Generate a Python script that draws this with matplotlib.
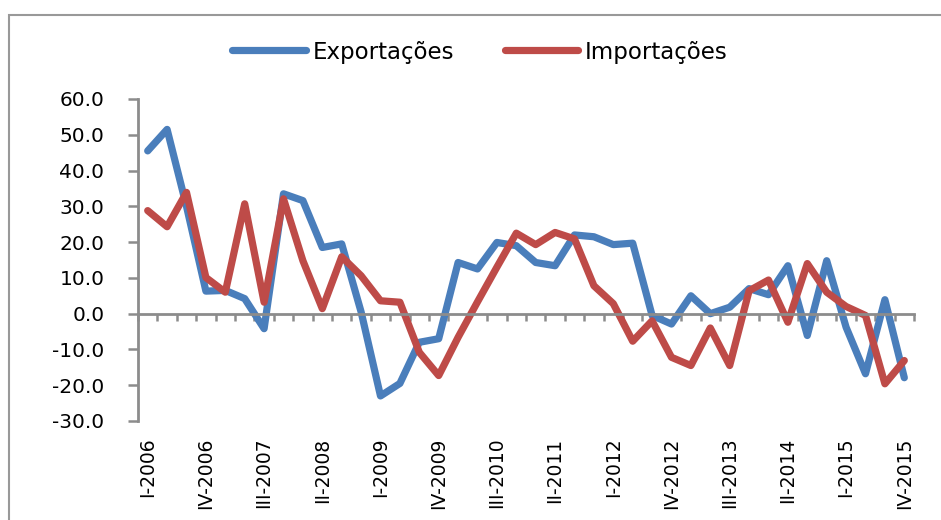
import matplotlib.pyplot as plt
from matplotlib.patches import Rectangle

# Trimestres I-2006 .. IV-2015
quarters = [f"{q}-{y}" for y in range(2006, 2016) for q in ["I", "II", "III", "IV"]]

exportacoes = [45.5, 51.5, 30.0, 6.3, 6.5, 4.2, -4.2, 33.5, 31.6, 18.5,
               19.5, 0.5, -23.0, -19.5, -8.0, -7.0, 14.3, 12.5, 19.9, 19.0,
               14.3, 13.4, 22.0, 21.5, 19.3, 19.7, -0.5, -2.9, 5.0, 0.0,
               1.8, 7.0, 5.3, 13.4, -6.1, 14.8, -3.8, -16.8, 3.9, -17.9]

importacoes = [28.8, 24.3, 33.9, 10.1, 6.0, 30.7, 3.2, 32.1, 14.8, 1.4,
               15.9, 10.6, 3.6, 3.2, -10.8, -17.3, -6.6, 3.3, 13.0, 22.5,
               19.3, 22.7, 20.9, 7.8, 2.8, -7.7, -2.0, -12.2, -14.5, -4.0,
               -14.5, 6.4, 9.4, -2.4, 14.0, 6.0, 2.0, -0.5, -19.6, -13.1]

yticks = [-30, -20, -10, 0, 10, 20, 30, 40, 50, 60]
label_idx = list(range(0, 40, 3))

blue = "#4A7EBB"
red = "#BE4B48"
gray = "#8C8C8C"

fig = plt.figure(figsize=(9.41, 5.2), dpi=100)
ax = fig.add_axes([138 / 941, 99 / 520, 776 / 941, 322 / 520])

x = list(range(len(quarters)))
ax.plot(x, exportacoes, color=blue, lw=5.2, solid_capstyle="round",
        solid_joinstyle="round", label="Exportações")
ax.plot(x, importacoes, color=red, lw=5.2, solid_capstyle="round",
        solid_joinstyle="round", label="Importações")

ax.set_xlim(-0.5, 39.5)
ax.set_ylim(-30, 60)

# eixo y
ax.set_yticks(yticks)
ax.set_yticklabels([f"{v:.1f}" for v in yticks], fontsize=14.5,
                   family="DejaVu Sans")
ax.tick_params(axis="y", direction="out", length=7.2, width=1.8, color=gray, pad=17)
ax.spines["left"].set_color(gray)
ax.spines["left"].set_linewidth(2)
ax.spines["top"].set_visible(False)
ax.spines["right"].set_visible(False)

# linha do zero com marcas entre categorias
ax.spines["bottom"].set_position(("data", 0))
ax.spines["bottom"].set_color(gray)
ax.spines["bottom"].set_linewidth(2)
ax.set_xticks([i - 0.5 for i in range(41)])
ax.set_xticklabels([])
ax.tick_params(axis="x", direction="out", length=5, width=1.8, color=gray)

# rótulos das categorias em baixo
sec = ax.secondary_xaxis(0)
sec.set_xticks(label_idx)
sec.set_xticklabels([quarters[i] for i in label_idx], rotation=90, fontsize=13.5,
                    family=["Liberation Sans Narrow", "DejaVu Sans Condensed", "DejaVu Sans"])
sec.tick_params(length=0, pad=12)
sec.spines["bottom"].set_visible(False)

fig.legend(loc="center", bbox_to_anchor=(480 / 941, 1 - 52 / 520), ncol=2,
           frameon=False, fontsize=16.5, handlelength=3.2, handletextpad=0.3,
           columnspacing=2.2)

# moldura
fig.patches.append(Rectangle((9 / 941, -0.1), 1.0, 1.1 - 15 / 520,
                             transform=fig.transFigure, fill=False,
                             edgecolor="#999999", lw=1.5))

plt.savefig("out.png", dpi=100)
